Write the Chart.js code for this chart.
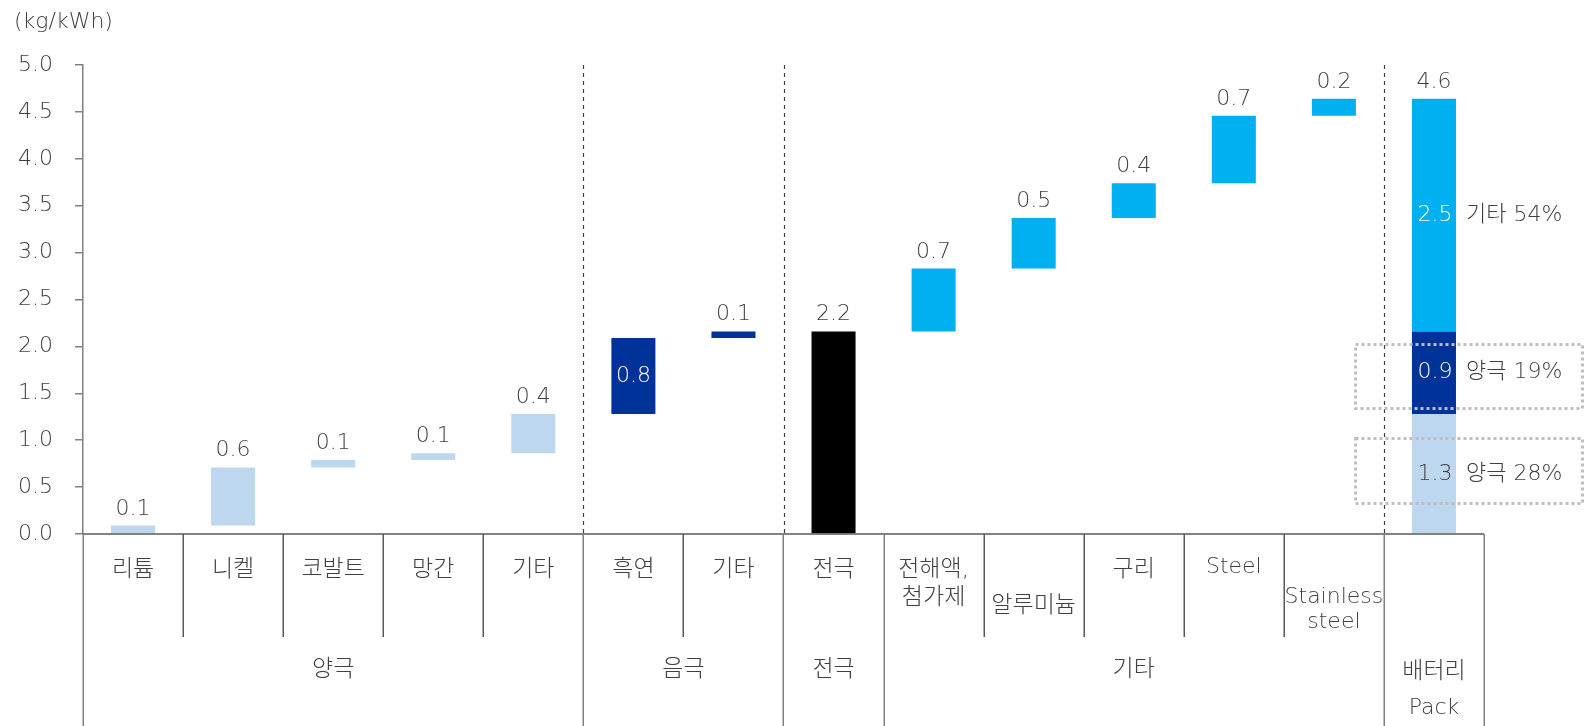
<!DOCTYPE html>
<html lang="ko">
<head>
<meta charset="utf-8">
<title>배터리 Pack 탄소배출량</title>
<script src="https://cdn.jsdelivr.net/npm/chart.js@4.4.1/dist/chart.umd.min.js"></script>
<style>
  html, body { margin: 0; padding: 0; background: #fff; }
  #wrap { width: 1585px; height: 726px; }
</style>
</head>
<body>
<div id="wrap"><canvas id="chart" width="1585" height="726"></canvas></div>
<script>
// 공정별 kg/kWh (waterfall 증분)
const categories = ['리튬', '니켈', '코발트', '망간', '기타', '흑연', '기타', '전극',
  ['전해액,', '첨가제'], '알루미늄', '구리', 'Steel', ['Stainless', 'steel'], ['배터리', 'Pack']];
const groups = [
  { name: ['양극'], from: 0, to: 4 },
  { name: ['음극'], from: 5, to: 6 },
  { name: ['전극'], from: 7, to: 7 },
  { name: ['기타'], from: 8, to: 12 },
  { name: ['배터리', 'Pack'], from: 13, to: 13 }
];
const cathode = [0.09, 0.62, 0.08, 0.07, 0.42];   // 리튬, 니켈, 코발트, 망간, 기타
const anode = [0.81, 0.07];                        // 흑연, 기타
const others = [0.67, 0.54, 0.37, 0.72, 0.18];     // 전해액, 알루미늄, 구리, Steel, Stainless
const packShares = ['양극 28%', '양극 19%', '기타 54%'];
const yTicks = [0, 0.5, 1, 1.5, 2, 2.5, 3, 3.5, 4, 4.5, 5];

const LIGHT = '#BDD7EE', DARK = '#003399', CYAN = '#00B0F0', BLACK = '#000000';
const FONT = '"DejaVu Sans", "Noto Sans CJK KR", sans-serif';
const FS = 22;
const TEXT = '#404040';

const n = categories.length;
const empty = () => new Array(n).fill(null);

// floating bars
const light = empty(), dark = empty(), black = empty(), cyan = empty();
const labels = empty();
let run = 0;
cathode.forEach((v, i) => { light[i] = [run, run + v]; labels[i] = v; run += v; });
const cathodeTotal = run;
anode.forEach((v, i) => { dark[5 + i] = [run, run + v]; labels[5 + i] = v; run += v; });
const electrode = run;
black[7] = [0, electrode]; labels[7] = electrode;
others.forEach((v, i) => { cyan[8 + i] = [run, run + v]; labels[8 + i] = v; run += v; });
const total = run;
light[13] = [0, cathodeTotal];
dark[13] = [cathodeTotal, electrode];
cyan[13] = [electrode, total];
labels[13] = total;

const fmt = v => (Math.round(v * 10) / 10).toFixed(1);
const isHangul = t => /^[\uAC00-\uD7A3,]+$/.test(t);

const tablePlugin = {
  id: 'table',
  beforeDatasetsDraw(chart) {
    const { ctx, chartArea: a, scales: { x } } = chart;
    ctx.save();
    ctx.strokeStyle = '#404040';
    ctx.lineWidth = 1.2;
    ctx.setLineDash([4, 4]);
    [5, 7, 13].forEach(i => {
      const px = Math.round((x.getPixelForValue(i - 1) + x.getPixelForValue(i)) / 2) + 0.5;
      ctx.beginPath(); ctx.moveTo(px, a.top); ctx.lineTo(px, a.bottom); ctx.stroke();
    });
    ctx.restore();
  },
  afterDatasetsDraw(chart) {
    const { ctx, chartArea: a, scales: { x, y } } = chart;
    const w = (x.getPixelForValue(1) - x.getPixelForValue(0));
    const edge = i => x.getPixelForValue(i) - w / 2;
    const setFont = t => { ctx.font = `200 ${isHangul(t) ? 23 : FS}px ${FONT}`; };
    ctx.save();

    // value labels
    ctx.font = `200 ${FS}px ${FONT}`;
    ctx.textAlign = 'center';
    for (let i = 0; i < n; i++) {
      const cx = x.getPixelForValue(i);
      if (i === 5) {
        const [s, e] = dark[5];
        ctx.fillStyle = '#fff'; ctx.textBaseline = 'middle';
        ctx.fillText(fmt(labels[i]), cx, (y.getPixelForValue(s) + y.getPixelForValue(e)) / 2);
        continue;
      }
      const top = Math.max(...[light, dark, black, cyan].map(d => d[i] ? d[i][1] : 0));
      ctx.fillStyle = TEXT; ctx.textBaseline = 'alphabetic';
      ctx.fillText(fmt(labels[i]), cx, y.getPixelForValue(top) - 11);
    }

    // Pack segment labels and shares
    const px = x.getPixelForValue(13);
    const segs = [[light[13], TEXT], [dark[13], '#fff'], [cyan[13], '#fff']];
    ctx.textBaseline = 'middle';
    segs.forEach(([seg, col], k) => {
      const my = (y.getPixelForValue(seg[0]) + y.getPixelForValue(seg[1])) / 2;
      ctx.textAlign = 'center'; ctx.fillStyle = col;
      ctx.fillText(fmt(seg[1] - seg[0]), px + 1, my);
      ctx.textAlign = 'left'; ctx.fillStyle = TEXT;
      ctx.fillText(packShares[k], px + 32, my);
    });

    // dotted boxes
    ctx.strokeStyle = '#BFBFBF';
    ctx.lineWidth = 3;
    ctx.setLineDash([3, 3]);
    [[344, 408], [438, 503]].forEach(([t, b]) => {
      ctx.strokeRect(1355.5, t + 0.5, 1582 - 1355, b - t);
    });
    ctx.setLineDash([]);

    // category axis
    ctx.strokeStyle = '#595959';
    ctx.lineWidth = 1.5;
    ctx.beginPath(); ctx.moveTo(a.left, a.bottom); ctx.lineTo(edge(n), a.bottom); ctx.stroke();
    const groupEdges = new Set(groups.map(g => g.from).concat([n]));
    for (let i = 0; i <= n; i++) {
      const ex = Math.round(edge(i)) + 0.25;
      ctx.strokeStyle = groupEdges.has(i) ? '#808080' : '#595959';
      ctx.beginPath();
      ctx.moveTo(ex, a.bottom);
      ctx.lineTo(ex, groupEdges.has(i) ? 726 : 637);
      ctx.stroke();
    }

    // category names
    ctx.fillStyle = TEXT;
    ctx.textAlign = 'center';
    ctx.textBaseline = 'middle';
    const lineY = { 8: [570, 598], 9: [606], 11: [567], 12: [597, 622] };
    categories.forEach((c, i) => {
      if (i === 13) return;
      const lines = Array.isArray(c) ? c : [c];
      const ys = lineY[i] || [570];
      lines.forEach((t, k) => { setFont(t); ctx.fillText(t, x.getPixelForValue(i), ys[k]); });
    });
    groups.forEach(g => {
      const gx = (edge(g.from) + edge(g.to + 1)) / 2;
      const ys = g.name.length === 2 ? [672, 708] : [670];
      g.name.forEach((t, k) => { setFont(t); ctx.fillText(t, gx, ys[k]); });
    });

    // unit
    ctx.font = `200 ${FS}px ${FONT}`;
    ctx.textAlign = 'left';
    ctx.fillText('(kg/kWh)', 14, 22);
    ctx.restore();
  }
};

const mk = (data, color) => ({
  data, backgroundColor: color, borderWidth: 0,
  barPercentage: 0.44, categoryPercentage: 1
});

new Chart(document.getElementById('chart'), {
  type: 'bar',
  data: {
    labels: categories.map(c => Array.isArray(c) ? c.join(' ') : c),
    datasets: [mk(light, LIGHT), mk(dark, DARK), mk(black, BLACK), mk(cyan, CYAN)]
  },
  options: {
    responsive: false,
    animation: false,
    layout: { padding: { top: 65, bottom: 192, left: 0, right: 101 } },
    plugins: { legend: { display: false }, tooltip: { enabled: false } },
    scales: {
      x: { stacked: true, display: false },
      y: {
        min: 0, max: 5,
        afterFit: s => { s.width = 83; },
        afterBuildTicks: s => { s.ticks = yTicks.map(v => ({ value: v })); },
        ticks: {
          padding: 22, color: TEXT,
          font: { family: FONT, size: FS, weight: 200 },
          callback: v => v.toFixed(1)
        },
        grid: { drawOnChartArea: false, tickLength: 8, color: '#808080', lineWidth: 1.5 },
        border: { color: '#808080', width: 1.5 }
      }
    }
  },
  plugins: [tablePlugin]
});
</script>
</body>
</html>
